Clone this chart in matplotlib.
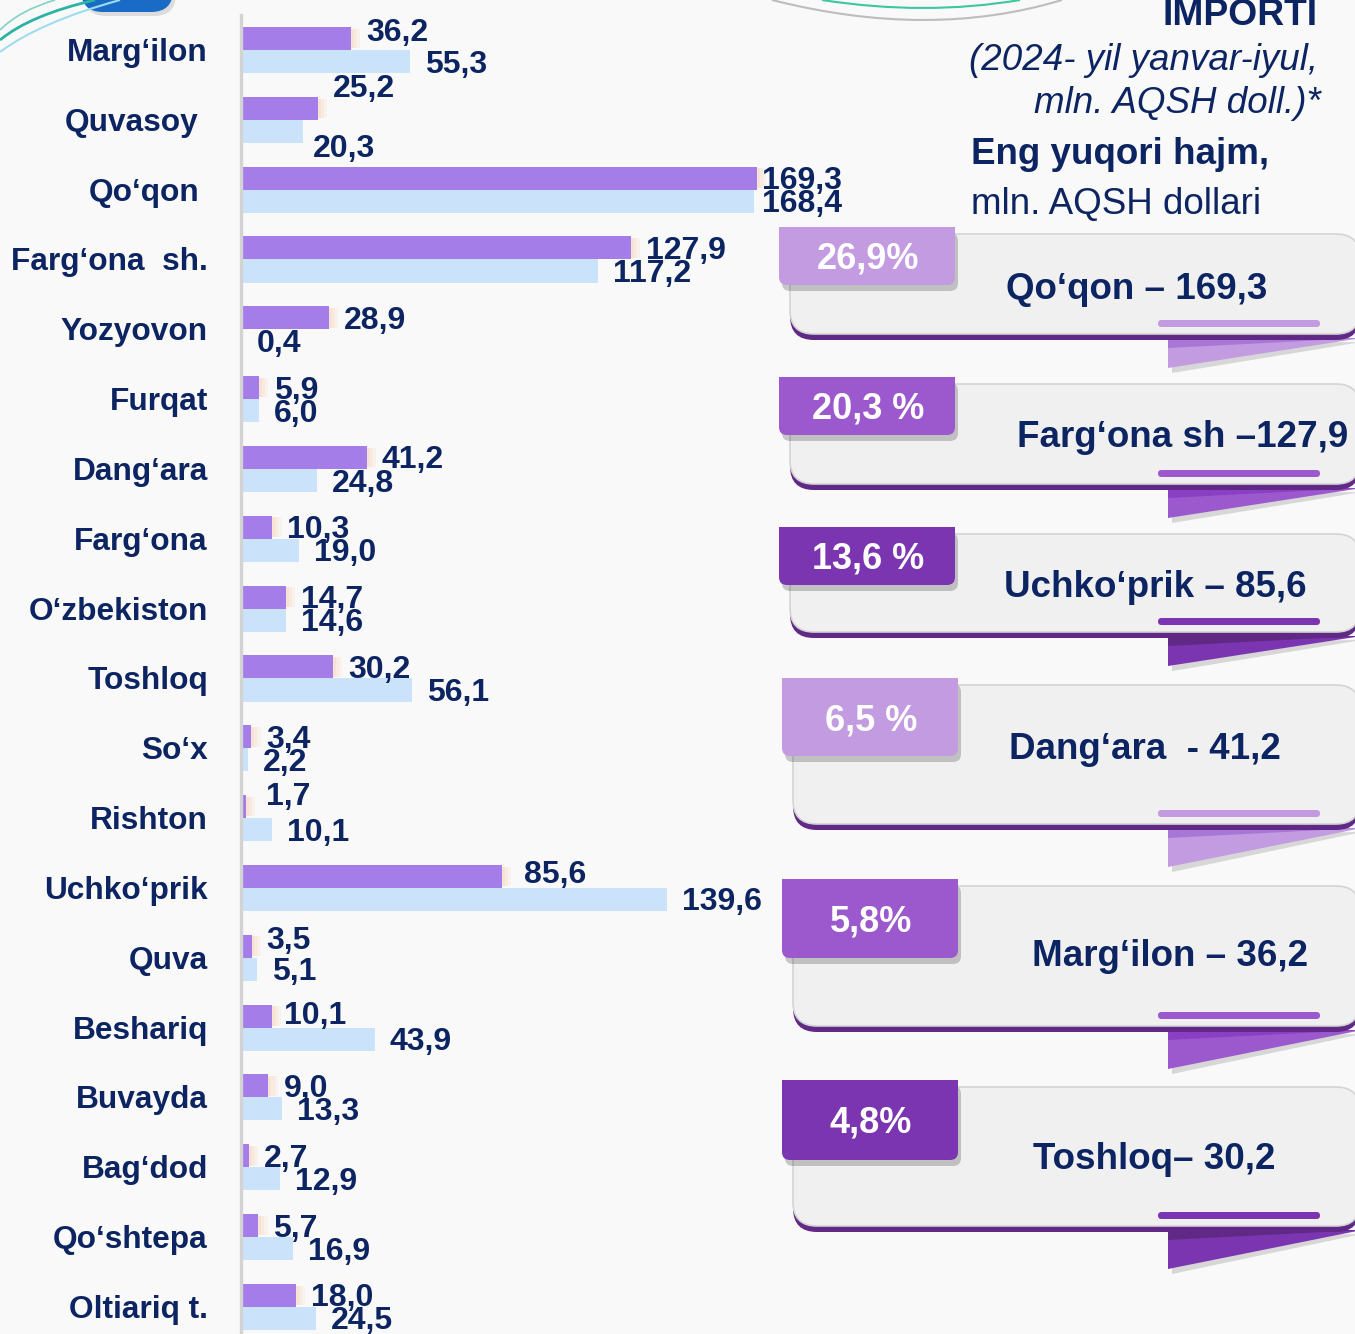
import numpy as np
import matplotlib.pyplot as plt
from matplotlib.patches import FancyBboxPatch, Polygon, PathPatch, Rectangle
from matplotlib.path import Path

plt.rcParams['font.family'] = ['Liberation Sans', 'DejaVu Sans']

# import by district, mln. USD
districts = ['Marg‘ilon', 'Quvasoy', 'Qo‘qon', 'Farg‘ona  sh.', 'Yozyovon', 'Furqat',
             'Dang‘ara', 'Farg‘ona', 'O‘zbekiston', 'Toshloq', 'So‘x', 'Rishton',
             'Uchko‘prik', 'Quva', 'Beshariq', 'Buvayda', 'Bag‘dod', 'Qo‘shtepa',
             'Oltiariq t.']
imp_2024 = [36.2, 25.2, 169.3, 127.9, 28.9, 5.9, 41.2, 10.3, 14.7, 30.2, 3.4, 1.7,
            85.6, 3.5, 10.1, 9.0, 2.7, 5.7, 18.0]
imp_2023 = [55.3, 20.3, 168.4, 117.2, 0.4, 6.0, 24.8, 19.0, 14.6, 56.1, 2.2, 10.1,
            139.6, 5.1, 43.9, 13.3, 12.9, 16.9, 24.5]

top_shares = ['26,9%', '20,3 %', '13,6 %', '6,5 %', '5,8%', '4,8%']
top_labels = ['Qo‘qon – 169,3', 'Farg‘ona sh –127,9', 'Uchko‘prik – 85,6',
              'Dang‘ara  - 41,2', 'Marg‘ilon – 36,2', 'Toshloq– 30,2']

NAVY = '#0c2461'
PURPLE = '#a47de9'
LIGHTBLUE = '#cbe3fa'
BAND = '#5f2985'
badge_colors = ['#c39be0', '#9b59cd', '#7b35b0'] * 2
tail_dark = ['#a877d6', '#8a3fc4', '#5f2985'] * 2

W, H = 1355, 1334
fig = plt.figure(figsize=(W / 100, H / 100), dpi=100, facecolor='#f9f9f9')

# background layer in pixel units for the decorations and callout cards
bg = fig.add_axes([0, 0, 1, 1])
bg.set_xlim(0, W)
bg.set_ylim(H, 0)
bg.axis('off')

# header ornaments
bg.add_patch(FancyBboxPatch((84, -40), 92, 56, boxstyle='round,pad=0,rounding_size=22',
                            fc='#c9c9c9', ec='none', alpha=0.6))
bg.add_patch(FancyBboxPatch((81, -44), 92, 56, boxstyle='round,pad=0,rounding_size=22',
                            fc='#1a6bc6', ec='none'))
for pts, col, lw in [([(0, 40), (30, 15), (95, 0)], '#2bb3a3', 2.0),
                     ([(0, 52), (40, 22), (120, 0)], '#9fdcef', 1.5),
                     ([(0, 30), (20, 10), (55, 0)], '#7fd3c4', 1.2)]:
    bg.add_patch(PathPatch(Path(pts, [Path.MOVETO, Path.CURVE3, Path.CURVE3]),
                           fc='none', ec=col, lw=lw))
bg.add_patch(PathPatch(Path([(772, 0), (930, 40), (1062, 0)],
                            [Path.MOVETO, Path.CURVE3, Path.CURVE3]),
                       fc='none', ec='#bdbdbd', lw=1.5))
bg.add_patch(PathPatch(Path([(822, 0), (925, 16), (1020, 0)],
                            [Path.MOVETO, Path.CURVE3, Path.CURVE3]),
                       fc='none', ec='#3cc7a0', lw=1.5))

# title block
bg.text(1318, 25, 'IMPORTI', ha='right', va='baseline', fontsize=26.8,
        fontweight='bold', color=NAVY)
bg.text(1318, 70, '(2024- yil yanvar-iyul,', ha='right', va='baseline',
        fontsize=26.5, style='italic', color=NAVY)
bg.text(1321, 113, 'mln. AQSH doll.)*', ha='right', va='baseline',
        fontsize=26.5, style='italic', color=NAVY)
bg.text(971, 164, 'Eng yuqori hajm,', ha='left', va='baseline', fontsize=26.5,
        fontweight='bold', color=NAVY)
bg.text(971, 214, 'mln. AQSH dollari', ha='left', va='baseline', fontsize=26.5,
        color=NAVY)

# callout cards
card_tops = [227, 377, 527, 678, 879, 1080]
badge_h = [58, 58, 58, 78, 79, 80]
band_bottom = [340, 490, 638, 830, 1032, 1232]
text_x = [1137, 1183, 1155, 1145, 1170, 1154]
text_y = [286, 434, 584, 746, 953, 1156]

for k in range(len(top_shares)):
    top, bh, bottom, col = card_tops[k], badge_h[k], band_bottom[k], badge_colors[k]
    left = 790 if k < 3 else 793
    bleft = 779 if k < 3 else 782
    body_top = top + 7
    tail_h = 28 if k < 3 else 37

    # folded ribbon tail
    bg.add_patch(Polygon([(1172, bottom + 4), (1362, bottom + 2), (1172, bottom + tail_h + 5)],
                         fc='#9a9a9a', ec='none', alpha=0.35))
    bg.add_patch(Polygon([(1168, bottom - 2), (1362, bottom - 2), (1168, bottom + tail_h)],
                         fc=col, ec='none'))
    bg.add_patch(Polygon([(1168, bottom - 2), (1362, bottom - 2), (1168, bottom + 8)],
                         fc=tail_dark[k], ec='none'))

    # card body with dark lower band
    bg.add_patch(FancyBboxPatch((left, body_top), 1360 - left, bottom - body_top,
                                boxstyle='round,pad=0,rounding_size=24',
                                fc=BAND, ec='none'))
    bg.add_patch(FancyBboxPatch((left, body_top), 1360 - left, bottom - 6 - body_top,
                                boxstyle='round,pad=0,rounding_size=24',
                                fc='#f0f0f0', ec='#d4d4d4', lw=1.2))
    bg.add_patch(FancyBboxPatch((1158, bottom - 20), 162, 7,
                                boxstyle='round,pad=0,rounding_size=3.5',
                                fc=col, ec='none'))

    # percentage badge: square top, rounded bottom
    bg.add_patch(FancyBboxPatch((bleft + 3, top + 6), 176, bh,
                                boxstyle='round,pad=0,rounding_size=8',
                                fc='black', ec='none', alpha=0.2))
    bg.add_patch(FancyBboxPatch((bleft, top), 176, bh,
                                boxstyle='round,pad=0,rounding_size=8',
                                fc=col, ec='none'))
    bg.add_patch(Rectangle((bleft, top), 176, bh / 2, fc=col, ec='none'))
    bg.text(bleft + 89, top + bh / 2 + 13, top_shares[k], ha='center', va='baseline',
            fontsize=26, fontweight='bold', color='white')
    bg.text(text_x[k], text_y[k] + 13, top_labels[k], ha='center', va='baseline',
            fontsize=26.5, fontweight='bold', color=NAVY)

# bar chart
row_px = 69.83
px_per_unit = 3.048
xmax = 200
y_bottom = (H - 50) / row_px
top_px = 50 - 0.5 * row_px
ax = fig.add_axes([241 / W, 0, xmax * px_per_unit / W, (H - top_px) / H])
ax.set_xlim(0, xmax)
ax.set_ylim(y_bottom, -0.5)
ax.patch.set_alpha(0)
for side in ['top', 'right', 'bottom']:
    ax.spines[side].set_visible(False)
ax.spines['left'].set_color('#d3d3d3')
ax.spines['left'].set_linewidth(2.4)
ax.set_xticks([])
ax.set_yticks([])

y = np.arange(len(districts))
h = 0.33
# soft warm glow at the end of each purple bar
for step, a in enumerate([0.45, 0.3, 0.15]):
    ax.barh(y - h / 2, [1.0] * len(y), left=np.array(imp_2024) + step, height=h * 0.85,
            color='#f6c9a8', alpha=a, lw=0)
ax.barh(y - h / 2, imp_2024, height=h, color=PURPLE)
ax.barh(y + h / 2, imp_2023, height=h, color=LIGHTBLUE)

# label nudges (pixels): x gap from bar end, y shift upward
nudge_2024 = {0: (15, 8), 1: (15, 22), 2: (5, 0), 11: (20, 13), 12: (22, 4),
              13: (15, 8), 14: (12, 3)}
nudge_2023 = {1: (10, -15), 2: (8, 0)}
name_dx = {1: -42, 2: -42}

lab_kw = dict(textcoords='offset pixels', ha='left', va='baseline', fontsize=23,
              fontweight='bold', color=NAVY, annotation_clip=False)
for i in range(len(districts)):
    dx, dy = nudge_2024.get(i, (15, 0))
    ax.annotate(f'{imp_2024[i]:.1f}'.replace('.', ','), xy=(imp_2024[i], i - h / 2),
                xytext=(dx, dy - 11), **lab_kw)
    dx, dy = nudge_2023.get(i, (15, 0))
    ax.annotate(f'{imp_2023[i]:.1f}'.replace('.', ','), xy=(imp_2023[i], i + h / 2),
                xytext=(dx, dy - 11), **lab_kw)
    ax.annotate(districts[i], xy=(0, i), xytext=(name_dx.get(i, -33), -11),
                textcoords='offset pixels', ha='right', va='baseline', fontsize=22.8,
                fontweight='bold', color=NAVY, annotation_clip=False)

fig.savefig('out.png', dpi=100, facecolor=fig.get_facecolor())
